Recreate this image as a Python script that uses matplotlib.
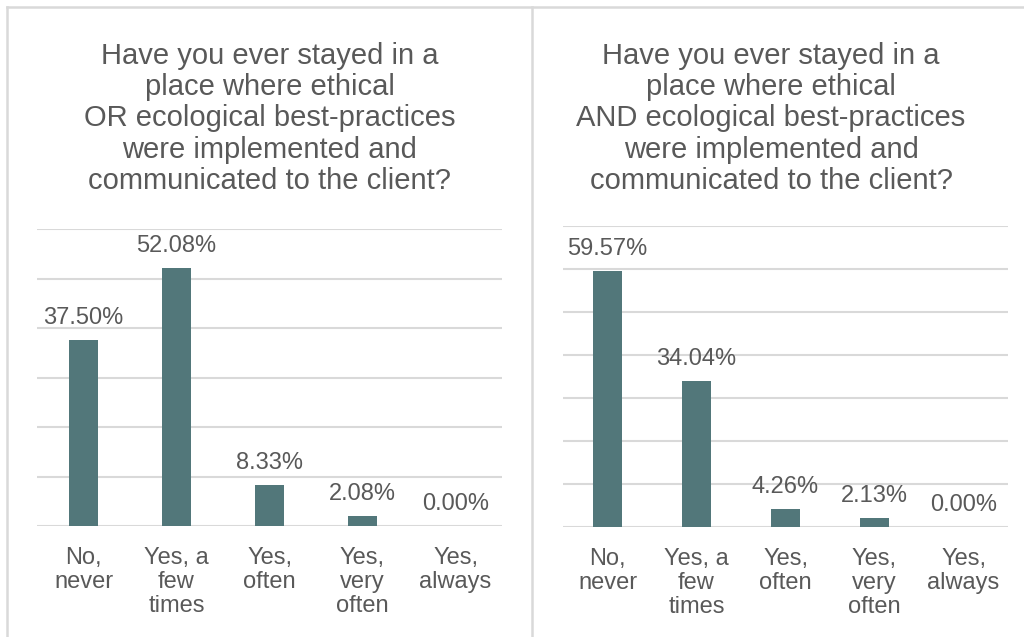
import matplotlib
matplotlib.use("Agg")
import matplotlib.pyplot as plt
from matplotlib.lines import Line2D

plt.rcParams['font.family'] = ['Liberation Sans', 'DejaVu Sans']

categories = ["No,\nnever", "Yes, a\nfew\ntimes", "Yes,\noften", "Yes,\nvery\noften", "Yes,\nalways"]
or_values = [37.50, 52.08, 8.33, 2.08, 0.00]
and_values = [59.57, 34.04, 4.26, 2.13, 0.00]

or_title = ("Have you ever stayed in a\nplace where ethical\nOR ecological best-practices\n"
            "were implemented and\ncommunicated to the client?")
and_title = ("Have you ever stayed in a\nplace where ethical\nAND ecological best-practices\n"
             "were implemented and\ncommunicated to the client?")

BAR = "#52777A"
TEXT = "#595959"
GRID = "#D9D9D9"

W, H = 1024, 637
fig = plt.figure(figsize=(W / 100, H / 100), dpi=100)


def px(x0, y0, x1, y1):
    # pixel box (left, top, right, bottom) -> figure rect
    return [x0 / W, 1 - y1 / H, (x1 - x0) / W, (y1 - y0) / H]


def draw_panel(rect, values, ymax, width):
    ax = fig.add_axes(rect)
    xs = range(len(values))
    ax.bar(xs, values, width=width, color=BAR, zorder=3)
    for x, v in zip(xs, values):
        ax.annotate("{:.2f}%".format(v), (x, v), xytext=(0, 11.5),
                    textcoords="offset points", ha="center", va="baseline",
                    fontsize=17, color=TEXT)
    ax.set_xlim(-0.5, len(values) - 0.5)
    ax.set_ylim(0, ymax)
    ax.set_yticks(range(0, ymax + 1, 10))
    ax.yaxis.grid(True, color=GRID, linewidth=1.5, zorder=0)
    ax.set_yticklabels([])
    ax.tick_params(axis="y", length=0)
    ax.set_xticks(list(xs))
    ax.set_xticklabels(categories, fontsize=17, color=TEXT, linespacing=1.13)
    ax.tick_params(axis="x", length=0, pad=15)
    for s in ax.spines.values():
        s.set_visible(False)
    ax.set_facecolor("none")
    return ax


draw_panel(px(37, 229, 502, 526), or_values, 60, 0.31)
draw_panel(px(563, 226, 1008, 527), and_values, 70, 0.315)

fig.text(269.5 / W, 1 - 189 / H, or_title, ha="center", va="baseline",
         fontsize=21, color=TEXT, linespacing=1.15)
fig.text(771 / W, 1 - 189 / H, and_title, ha="center", va="baseline",
         fontsize=21, color=TEXT, linespacing=1.15)

# panel borders
for xy in [([7, W], [7, 7]), ([7, 7], [7, H]), ([532, 532], [7, H])]:
    fig.add_artist(Line2D([x / W for x in xy[0]], [1 - y / H for y in xy[1]],
                          color=GRID, linewidth=1.8, transform=fig.transFigure))

fig.savefig("out.png", dpi=100, facecolor="white")
